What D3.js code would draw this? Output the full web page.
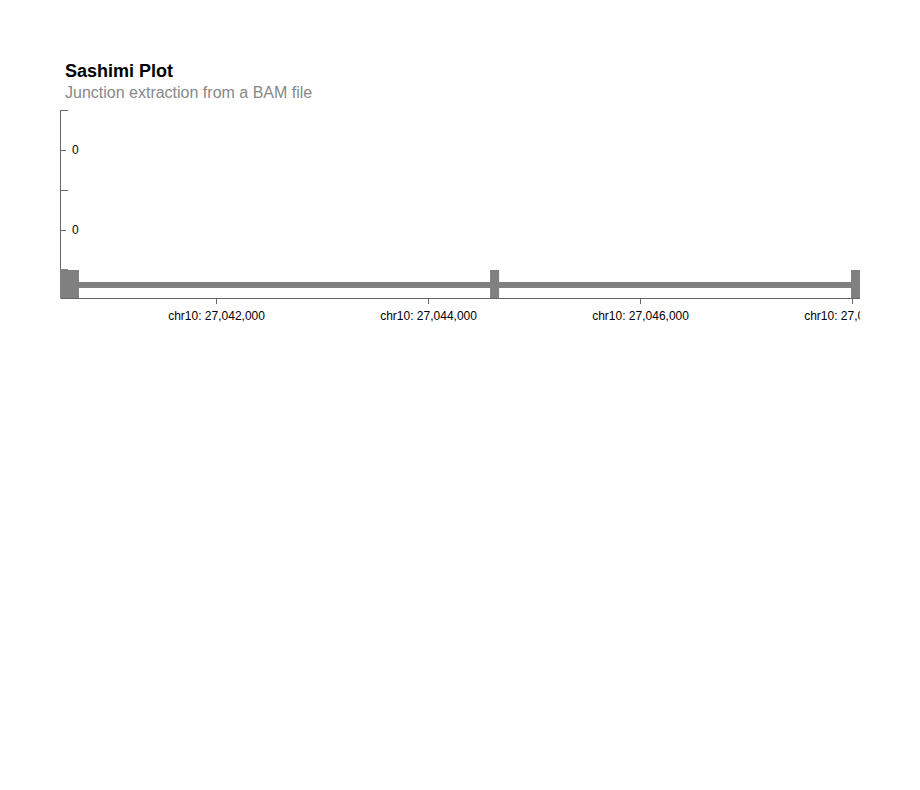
<!DOCTYPE html>
<html>
<head>
<meta charset="utf-8">
<script src="https://cdn.jsdelivr.net/npm/d3@7"></script>
<style>
  html, body { margin: 0; padding: 0; background: #ffffff; }
  text { font-family: "Liberation Sans", Arial, Helvetica, sans-serif; }
</style>
</head>
<body>
<div id="chart"></div>
<script>
// ---- data ----
const chrom = "chr10";
const regionStart = 27040528;
const regionEnd = 27048075;
const samples = ["Sample 1", "Sample 2"];
const sampleMaxCounts = [0, 0];
const exonStarts = [27040528, 27044585, 27047990];
const exonEnds = [27040707, 27044670, 27048160];
const junctionStarts = [];
const junctionEnds = [];
const junctionCounts = [];
const titleText = "Sashimi Plot";
const subtitleText = "Junction extraction from a BAM file";

// ---- layout ----
const W = 920, H = 790;
const mLeft = 60, mRight = 860, mTop = 110;
const trackH = 80, geneH = 28;
const geneTop = mTop + trackH * samples.length;
const axisY = geneTop + geneH;

const svg = d3.select("#chart").append("svg")
  .attr("width", W).attr("height", H);

svg.append("defs").append("clipPath").attr("id", "clip")
  .append("rect").attr("x", 0).attr("y", 0).attr("width", mRight).attr("height", H);

svg.append("text").attr("x", 65).attr("y", 77)
  .style("font-size", "18px").style("font-weight", "bold").attr("fill", "#000")
  .text(titleText);
svg.append("text").attr("x", 65).attr("y", 98)
  .style("font-size", "16px").attr("fill", "#888")
  .text(subtitleText);

const x = d3.scaleLinear().domain([regionStart, regionEnd]).range([mLeft, mRight]);

const g = svg.append("g").attr("clip-path", "url(#clip)");

// coverage tracks with y axes
samples.forEach((s, i) => {
  const y0 = mTop + trackH * i;
  const y = d3.scaleLinear().domain([0, sampleMaxCounts[i]]).range([y0 + trackH, y0]);
  const ax = g.append("g").attr("transform", `translate(${mLeft},0)`)
    .call(d3.axisRight(y).tickSize(6).tickSizeOuter(8).tickPadding(6).tickFormat(d3.format("d")));
  ax.selectAll("text").style("font-size", "12px").attr("fill", "#000");
  ax.selectAll("path,line").attr("stroke", "#666");
  junctionStarts.forEach((js, k) => {
    const x1 = x(js), x2 = x(junctionEnds[k]);
    g.append("path")
      .attr("d", `M${x1},${y(0)} Q${(x1 + x2) / 2},${y(junctionCounts[k])} ${x2},${y(0)}`)
      .attr("fill", "none").attr("stroke", "#808080");
  });
});

// gene model
const geneMid = geneTop + geneH / 2;
g.append("rect")
  .attr("x", x(d3.min(exonStarts))).attr("width", x(d3.max(exonEnds)) - x(d3.min(exonStarts)))
  .attr("y", geneMid - 2).attr("height", 6).attr("fill", "#808080");
g.selectAll("rect.exon").data(exonStarts.map((s, i) => [s, exonEnds[i]]))
  .enter().append("rect").attr("class", "exon")
  .attr("x", d => x(d[0])).attr("width", d => x(d[1]) - x(d[0]))
  .attr("y", geneTop).attr("height", geneH).attr("fill", "#808080");

// x axis
const xa = g.append("g").attr("transform", `translate(0,${axisY})`)
  .call(d3.axisBottom(x).ticks(5).tickSize(6).tickSizeOuter(0).tickPadding(7)
    .tickFormat(d => `${chrom}: ${d3.format(",")(d)}`));
xa.selectAll("text").style("font-size", "12px").attr("fill", "#000");
xa.selectAll("path,line").attr("stroke", "#666");

// outer tick of the last y axis, visible above the gene track
g.append("line").attr("x1", mLeft).attr("x2", mLeft + 8)
  .attr("y1", geneTop - 0.5).attr("y2", geneTop - 0.5).attr("stroke", "#808080");
</script>
</body>
</html>
